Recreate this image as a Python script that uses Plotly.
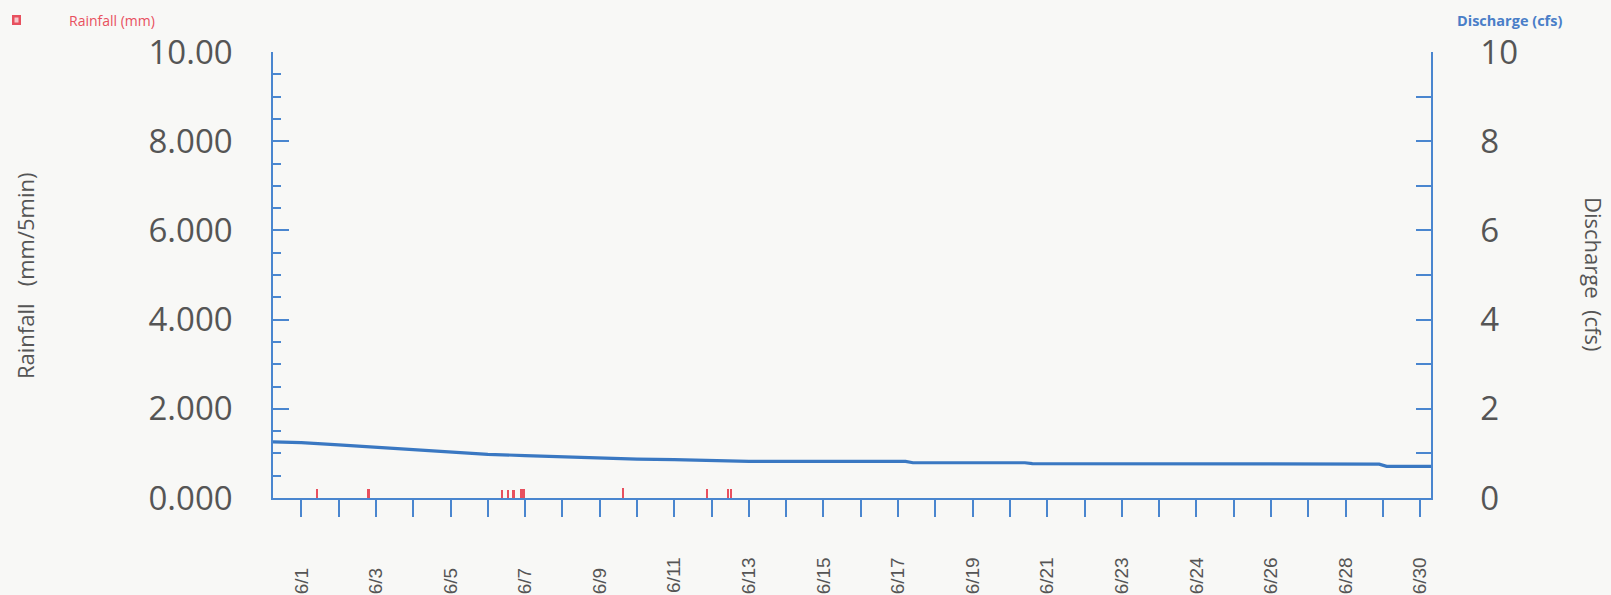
import plotly.graph_objects as go

# ---- data ----
day_tick_positions = list(range(0, 31))
day_tick_labels = ["6/1", "6/3", "6/5", "6/7", "6/9", "6/11", "6/13", "6/15", "6/17",
                   "6/19", "6/21", "6/23", "6/24", "6/26", "6/28", "6/30"]

rain_days = [0.42, 1.80, 5.39, 5.54, 5.69, 5.90, 5.98, 8.63, 10.88, 11.45, 11.52]
rain_mm = [0.20, 0.20, 0.18, 0.18, 0.18, 0.20, 0.20, 0.22, 0.20, 0.20, 0.20]

discharge_days = [-0.76, 0, 1, 2, 3, 4, 5, 6, 7, 8, 9, 10, 11, 12, 14, 16.2, 16.4,
                  19.4, 19.6, 22.6, 22.8, 26, 28.9, 29.1, 30.29]
discharge_cfs = [1.26, 1.24, 1.19, 1.14, 1.09, 1.03, 0.98, 0.95, 0.92, 0.89, 0.87, 0.86,
                 0.84, 0.82, 0.82, 0.82, 0.79, 0.79, 0.77, 0.77, 0.76, 0.76, 0.76, 0.71, 0.71]

left_tick_vals = [0, 2, 4, 6, 8, 10]
left_tick_text = ["0.000", "2.000", "4.000", "6.000", "8.000", "10.00"]
right_tick_vals = list(range(0, 11))
right_tick_text = [str(v) if v % 2 == 0 else "" for v in right_tick_vals]

AXIS_BLUE = "#4a86cf"
LINE_BLUE = "#3a78c2"
RAIN_RED = "#e8505e"
GRAY = "#555555"
BG = "#f8f8f6"

W, H = 1611, 595
PL, PR, PT, PB = 273, 1431, 52, 498  # plot area in page pixels
ML, MR, MT, MB = PL, W - PR, PT, H - PB
PW, PH = PR - PL, PB - PT


def px(x):
    return (x - PL) / PW


def py(y):
    return (PB - y) / PH


xt_text = []
li = 0
for i in day_tick_positions:
    if i % 2 == 0:
        lab = day_tick_labels[li]
        li += 1
        if len(lab) == 3:
            lab = lab + "\u2007"
        xt_text.append(lab)
    else:
        xt_text.append("")

fig = go.Figure()
fig.add_trace(go.Bar(x=rain_days, y=rain_mm, width=0.06, marker=dict(color=RAIN_RED, line=dict(width=0)),
                     name="Rainfall (mm)", yaxis="y"))
fig.add_trace(go.Scatter(x=discharge_days, y=discharge_cfs, mode="lines",
                         line=dict(color=LINE_BLUE, width=3.2), name="Discharge (cfs)", yaxis="y2"))

fig.update_layout(
    width=W, height=H,
    margin=dict(l=ML, r=MR, t=MT, b=MB, autoexpand=False),
    paper_bgcolor=BG, plot_bgcolor=BG,
    showlegend=False,
    xaxis=dict(
        range=[-0.76, 30.29], showgrid=False, zeroline=False, automargin=False,
        showline=True, linecolor=AXIS_BLUE, linewidth=1.5,
        ticks="outside", ticklen=17, tickwidth=1.5, tickcolor=AXIS_BLUE,
        tickvals=day_tick_positions, ticktext=xt_text, tickangle=-90,
        tickfont=dict(family="Liberation Sans", size=19, color=GRAY),
        ticklabelstandoff=33,
    ),
    yaxis=dict(
        range=[0, 10], showgrid=False, zeroline=False, automargin=False,
        showline=True, linecolor=AXIS_BLUE, linewidth=1.5,
        ticks="inside", ticklen=16, tickwidth=1.5, tickcolor=AXIS_BLUE,
        tickvals=left_tick_vals, ticktext=left_tick_text,
        tickfont=dict(family="Open Sans", size=33, color=GRAY),
        ticklabelstandoff=32,
        minor=dict(ticks="inside", ticklen=8, dtick=0.5, tickwidth=1.5, tickcolor=AXIS_BLUE, showgrid=False),
    ),
    yaxis2=dict(
        range=[0, 10], overlaying="y", side="right", showgrid=False, zeroline=False, automargin=False,
        showline=True, linecolor=AXIS_BLUE, linewidth=1.5,
        ticks="inside", ticklen=15, tickwidth=1.5, tickcolor=AXIS_BLUE,
        tickvals=right_tick_vals, ticktext=right_tick_text,
        tickfont=dict(family="Open Sans", size=33, color=GRAY),
        ticklabelstandoff=41,
    ),
    annotations=[
        dict(text="Rainfall\u00a0\u00a0\u00a0(mm/5min)", xref="paper", yref="paper",
             x=px(25), y=py(276), xanchor="center", yanchor="middle",
             textangle=-90, showarrow=False, font=dict(family="Open Sans", size=22, color=GRAY)),
        dict(text="Discharge\u00a0\u00a0(cfs)", xref="paper", yref="paper",
             x=px(1594), y=py(274), xanchor="center", yanchor="middle",
             textangle=90, showarrow=False, font=dict(family="Open Sans", size=22, color=GRAY)),
        dict(text="Rainfall (mm)", xref="paper", yref="paper",
             x=px(67), y=py(20), xanchor="left", yanchor="middle",
             showarrow=False, font=dict(family="Open Sans", size=14, color=RAIN_RED)),
        dict(text="<b>Discharge (cfs)</b>", xref="paper", yref="paper",
             x=px(1455), y=py(21), xanchor="left", yanchor="middle",
             showarrow=False, font=dict(family="Open Sans", size=14.5, color="#4a7ec8")),
    ],
    shapes=[
        dict(type="rect", xref="paper", yref="paper",
             x0=px(12), x1=px(21), y0=py(25), y1=py(15),
             fillcolor=RAIN_RED, line=dict(width=0)),
        dict(type="rect", xref="paper", yref="paper",
             x0=px(14.5), x1=px(18.5), y0=py(22.5), y1=py(17.5),
             fillcolor="#f6c8cc", line=dict(width=0)),
    ],
    bargap=0,
)

fig.write_html(
    "out.html",
    config={"displayModeBar": False},
    post_script="document.body.style.margin='0';document.body.style.overflow='hidden';"
                "document.body.style.background='" + BG + "';",
)
